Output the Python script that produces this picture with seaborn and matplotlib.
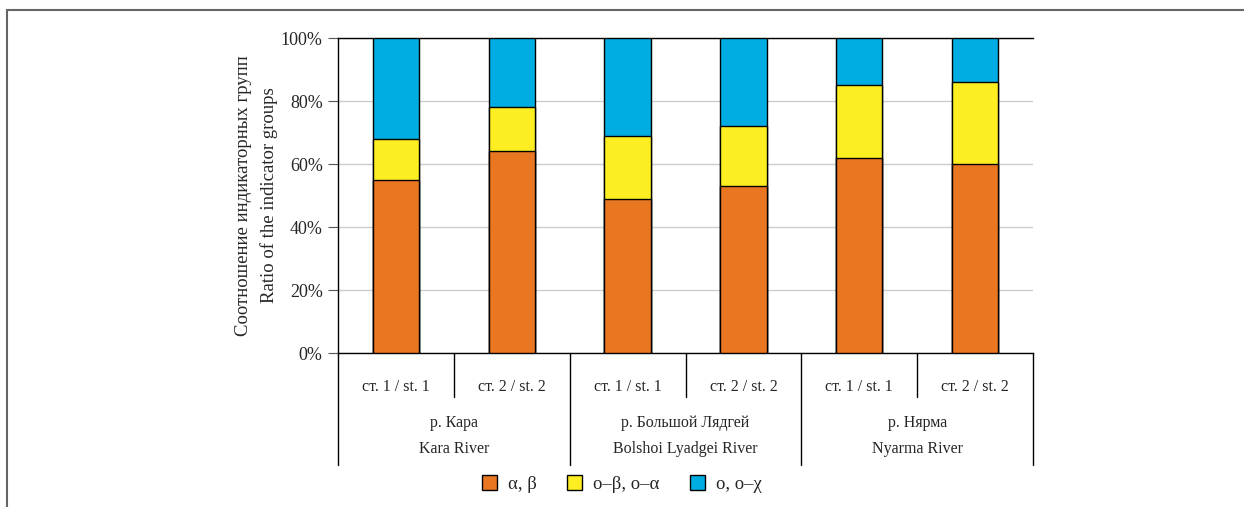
import matplotlib
matplotlib.use("Agg")
import matplotlib.pyplot as plt
import matplotlib.transforms as mtransforms
from matplotlib.lines import Line2D
from matplotlib.patches import Patch
import pandas as pd
import seaborn as sns

# данные
stations = ["ст. 1 / st. 1", "ст. 2 / st. 2"] * 3
rivers = ["р. Кара\nKara River", "р. Большой Лядгей\nBolshoi Lyadgei River", "р. Нярма\nNyarma River"]
alpha_beta = [55, 64, 49, 53, 62, 60]
o_beta_o_alpha = [13, 14, 20, 19, 23, 26]
o_o_chi = [32, 22, 31, 28, 15, 14]
groups = ["α, β", "o–β, o–α", "o, o–χ"]
colors = ["#E97620", "#FDEE21", "#00ADE3"]
yticks = [0, 20, 40, 60, 80, 100]

sns.set_style("white")
plt.rcParams["font.family"] = ["Liberation Serif", "DejaVu Serif"]

df = pd.DataFrame({
    "pos": list(range(len(stations))),
    "a": alpha_beta,
    "b": o_beta_o_alpha,
    "c": o_o_chi,
})
df["ab"] = df["a"] + df["b"]
df["abc"] = df["ab"] + df["c"]

fig = plt.figure(figsize=(12.44, 5.07), dpi=100)
ax = fig.add_axes([0.2717, 0.3037, 0.5587, 0.6213])

# накопленные высоты, сначала самые высокие
for col, color in [("abc", colors[2]), ("ab", colors[1]), ("a", colors[0])]:
    sns.barplot(data=df, x="pos", y=col, color=color, width=0.4, edgecolor="black",
                linewidth=1, saturation=1, ax=ax, zorder=3, native_scale=True)

ax.set_xlim(-0.5, len(stations) - 0.5)
ax.set_ylim(0, 100)
ax.set_yticks(yticks)
ax.set_yticklabels([f"{v}%" for v in yticks], fontsize=13)
ax.yaxis.grid(True, color="#cccccc", linewidth=1, zorder=0)
ax.set_axisbelow(True)
ax.tick_params(axis="y", length=7, color="#555555", pad=4, left=True)
ax.set_xticks(range(len(stations)))
ax.set_xticklabels(stations, fontsize=11.5)
ax.tick_params(axis="x", length=0, pad=19)
ax.set_xlabel("")
ax.set_ylabel("Соотношение индикаторных групп\nRatio of the indicator groups", fontsize=13.5,
              linespacing=1.55)
ax.yaxis.set_label_coords(-0.087, 0.5)

for s in ["left", "bottom", "top"]:
    ax.spines[s].set_color("black")
    ax.spines[s].set_linewidth(1)
ax.spines["right"].set_visible(False)

trans = mtransforms.blended_transform_factory(ax.transData, ax.transAxes)
for i in range(len(stations) + 1):
    x = i - 0.5
    y_end = -0.356 if i % 2 == 0 else -0.14
    ax.plot([x, x], [0, y_end], color="black", linewidth=1, transform=trans, clip_on=False)
for j, r in enumerate(rivers):
    ax.text(2 * j + 0.5, -0.264, r, transform=trans, ha="center", va="center",
            fontsize=11.5, linespacing=1.8)

handles = [Patch(facecolor=c, edgecolor="black", linewidth=1) for c in colors]
fig.legend(handles, groups, loc="center", bbox_to_anchor=(0.5, 0.045), ncol=3, frameon=False,
           fontsize=13.5, handlelength=0.8, handleheight=0.8, columnspacing=1.6, handletextpad=0.6)

# рамка
fig.add_artist(Line2D([0.0056, 1.0], [0.98, 0.98], color="#666666", linewidth=1.5, transform=fig.transFigure))
fig.add_artist(Line2D([0.0056, 0.0056], [0.0, 0.98], color="#666666", linewidth=1.5, transform=fig.transFigure))

fig.savefig("out.png", dpi=100)
